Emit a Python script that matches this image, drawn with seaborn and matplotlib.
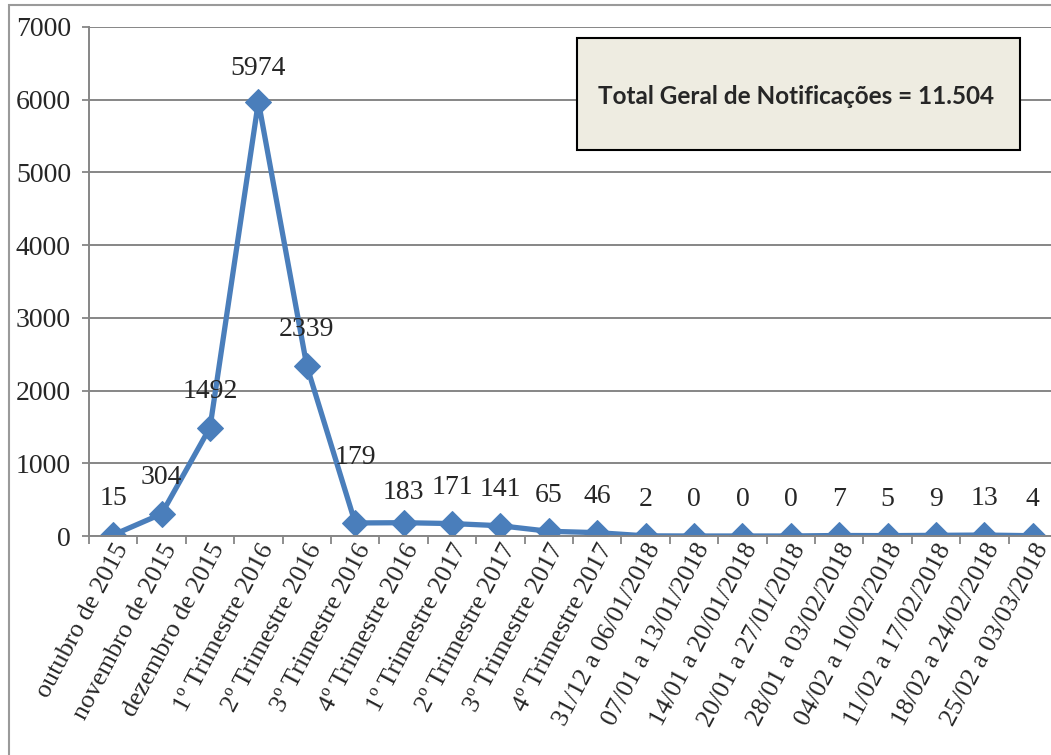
import numpy as np
import pandas as pd
import seaborn as sns
import matplotlib.pyplot as plt
from matplotlib.patches import Rectangle

periodos = ['outubro de 2015', 'novembro de 2015', 'dezembro de 2015',
            '1º Trimestre 2016', '2º Trimestre 2016', '3º Trimestre 2016',
            '4º Trimestre 2016', '1º Trimestre 2017', '2º Trimestre 2017',
            '3º Trimestre 2017', '4º Trimestre 2017', '31/12 a 06/01/2018',
            '07/01 a 13/01/2018', '14/01 a 20/01/2018', '20/01 a 27/01/2018',
            '28/01 a 03/02/2018', '04/02 a 10/02/2018', '11/02 a 17/02/2018',
            '18/02 a 24/02/2018', '25/02 a 03/03/2018']
notificacoes = [15, 304, 1492, 5974, 2339, 179, 183, 171, 141, 65, 46, 2,
                0, 0, 0, 7, 5, 9, 13, 4]
total_texto = 'Total Geral de Notificações = 11.504'

df = pd.DataFrame({'pos': np.arange(len(notificacoes)), 'n': notificacoes})

sns.set_style("white")
plt.rcParams['font.family'] = ['Liberation Serif', 'DejaVu Serif']

fig = plt.figure(figsize=(10.51, 7.55), dpi=100)
n = len(notificacoes)
left_px, right_px = 89, 89 + 48.4 * n
ax = fig.add_axes([left_px / 1051, 219 / 755, (right_px - left_px) / 1051, 509 / 755])

sns.lineplot(data=df, x='pos', y='n', ax=ax, color='#4A7EBB', linewidth=3.8,
             marker='D', markersize=13, markeredgecolor='#4A7EBB')

# label offsets in points (Excel moved a couple of them)
offsets = [26] * n
offsets[3] = 24
offsets[5] = 47
offsets[6] = 22
for i, v in enumerate(notificacoes):
    ax.annotate(str(v), (i, v), xytext=(0, offsets[i]), textcoords='offset points',
                ha='center', va='center', fontsize=20)

ax.set_xlim(-0.5, n - 0.5)
ax.set_ylim(0, 7000)
ax.set_yticks(range(0, 7001, 1000))
ax.tick_params(axis='y', labelsize=20, length=5, width=1.3, color='#868686',
               direction='out', left=True, pad=8)
ax.set_xticks(range(n))
ax.set_xticklabels(periodos, rotation=62, ha='right', rotation_mode='anchor', fontsize=18.8)
ax.set_xticks(np.arange(-0.5, n, 1), minor=True)
ax.tick_params(axis='x', which='major', length=0, pad=3)
ax.tick_params(axis='x', which='minor', length=6, width=1.3, color='#868686',
               direction='out', bottom=True)
ax.grid(axis='y', color='#868686', linewidth=1.4)
ax.grid(axis='x', visible=False)
ax.set_axisbelow(True)
for s in ['top', 'right']:
    ax.spines[s].set_visible(False)
for s in ['left', 'bottom']:
    ax.spines[s].set_color('#868686')
    ax.spines[s].set_linewidth(1.4)
ax.set_xlabel('')
ax.set_ylabel('')

# total box
fig.add_artist(Rectangle((577 / 1051, 605 / 755), 443 / 1051, 112 / 755,
                         transform=fig.transFigure, facecolor='#EEECE1',
                         edgecolor='black', linewidth=1.5, zorder=5))
fig.text(796 / 1051, 659 / 755, total_texto, ha='center', va='center',
         fontsize=17.5, fontweight='bold', family=['Lato', 'DejaVu Sans'], zorder=6)

# outer chart border
fig.add_artist(Rectangle((9 / 1051, -0.1), 1.2, 750 / 755 + 0.1,
                         transform=fig.transFigure, fill=False,
                         edgecolor='#9A9A9A', linewidth=1.5))

plt.savefig('out.png', dpi=100)
